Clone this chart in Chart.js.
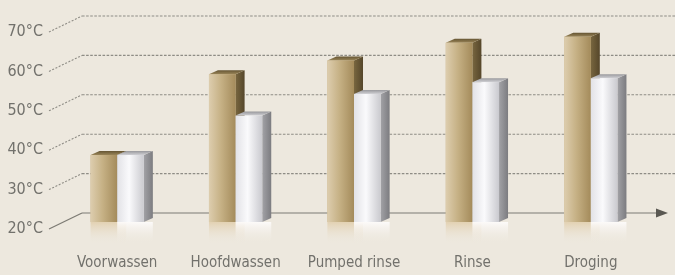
<!DOCTYPE html>
<html lang="nl">
<head>
<meta charset="UTF-8">
<title>Temperatuur per fase</title>
<script src="https://cdn.jsdelivr.net/npm/chart.js"></script>
<style>
  html, body { margin: 0; padding: 0; background: #ede8de; }
  canvas { display: block; }
</style>
</head>
<body>
<canvas id="chart" width="675" height="275"></canvas>
<script>
const phases = ['Voorwassen', 'Hoofdwassen', 'Pumped rinse', 'Rinse', 'Droging'];
const goldTemps = [37, 57.5, 61, 65.5, 67];
const whiteTemps = [37, 47, 52.5, 55.5, 56.5];
const tempTicks = [20, 30, 40, 50, 60, 70];

const BG = '#ede8de';
const FONT = '"Liberation Sans Narrow", "DejaVu Sans Condensed", "Liberation Sans", sans-serif';
const DX = 9, DY = -4;          // bar depth
const WALL_X = 82, WALL_Y = -9; // back wall offset
const LABEL_SHIFT = 7;

const palettes = [
  { front: ['#ddcdae', '#c6b185', '#a48b5b'], side: ['#78663f', '#55462a'],
    top: ['#655533', '#9a8558'], reflect: 'rgba(226,208,176,0.95)' },
  { front: ['#e2e2e6', '#fafafc', '#cacacf'], side: ['#a2a2a6', '#7c7c80'],
    top: ['#98989c', '#d0d0d4'], reflect: 'rgba(252,250,249,1)' }
];

function bar3d(ctx, bar, pal) {
  const left = bar.x - bar.width / 2, right = bar.x + bar.width / 2;
  const top = bar.y, base = bar.base;
  // fading part under the floor
  let g = ctx.createLinearGradient(0, base, 0, base + 22);
  g.addColorStop(0, pal.reflect);
  g.addColorStop(1, 'rgba(237,232,222,0)');
  ctx.fillStyle = g;
  ctx.fillRect(left, base, right - left + DX, 22);
  // side
  g = ctx.createLinearGradient(right, 0, right + DX, 0);
  g.addColorStop(0, pal.side[0]); g.addColorStop(1, pal.side[1]);
  ctx.fillStyle = g;
  ctx.beginPath();
  ctx.moveTo(right, top); ctx.lineTo(right + DX, top + DY);
  ctx.lineTo(right + DX, base + DY); ctx.lineTo(right, base);
  ctx.closePath(); ctx.fill();
  // top
  g = ctx.createLinearGradient(0, top + DY, 0, top);
  g.addColorStop(0, pal.top[0]); g.addColorStop(1, pal.top[1]);
  ctx.fillStyle = g;
  ctx.beginPath();
  ctx.moveTo(left, top); ctx.lineTo(left + DX, top + DY);
  ctx.lineTo(right + DX, top + DY); ctx.lineTo(right, top);
  ctx.closePath(); ctx.fill();
  // front
  g = ctx.createLinearGradient(left, 0, right, 0);
  g.addColorStop(0, pal.front[0]); g.addColorStop(0.45, pal.front[1]); g.addColorStop(1, pal.front[2]);
  ctx.fillStyle = g;
  ctx.fillRect(left, top, right - left, base - top);
}

const wallPlugin = {
  id: 'wall',
  beforeDraw(chart) {
    const ctx = chart.ctx;
    ctx.save();
    ctx.fillStyle = BG;
    ctx.fillRect(0, 0, chart.width, chart.height);
    ctx.restore();
  },
  beforeDatasetsDraw(chart) {
    const ctx = chart.ctx, y = chart.scales.y;
    ctx.save();
    tempTicks.forEach(v => {
      const p = y.getPixelForValue(v);
      const back = p + WALL_Y;
      const solid = v === tempTicks[0];
      ctx.strokeStyle = solid ? '#7d7b74' : '#8e8c85';
      ctx.lineWidth = solid ? 1.2 : 1.1;
      // connector from label to wall
      ctx.setLineDash(solid ? [] : [2, 1.6]);
      ctx.beginPath();
      ctx.moveTo(49, p + LABEL_SHIFT);
      ctx.lineTo(WALL_X, back);
      ctx.stroke();
      // line on the back wall
      ctx.setLineDash(solid ? [] : [2.6, 1.5]);
      ctx.beginPath();
      ctx.moveTo(WALL_X, back);
      ctx.lineTo(solid ? 657 : chart.width, back);
      ctx.stroke();
      if (solid) {
        ctx.setLineDash([]);
        ctx.fillStyle = '#5a5852';
        ctx.beginPath();
        ctx.moveTo(656, back - 4.5);
        ctx.lineTo(668, back);
        ctx.lineTo(656, back + 4.5);
        ctx.closePath();
        ctx.fill();
      }
    });
    ctx.restore();
  },
  afterDatasetsDraw(chart) {
    // repaint as 3D blocks: gold first, white on top of it
    const ctx = chart.ctx;
    ctx.save();
    [0, 1].forEach(i => {
      chart.getDatasetMeta(i).data.forEach(bar => bar3d(ctx, bar, palettes[i]));
    });
    ctx.restore();
  }
};

new Chart(document.getElementById('chart'), {
  type: 'bar',
  data: {
    labels: phases,
    datasets: [
      { label: 'goud', data: goldTemps, backgroundColor: '#c6b185', base: 20,
        categoryPercentage: 0.45, barPercentage: 1 },
      { label: 'wit', data: whiteTemps, backgroundColor: '#f2f2f4', base: 20,
        categoryPercentage: 0.45, barPercentage: 1 }
    ]
  },
  options: {
    responsive: false,
    animation: false,
    layout: { padding: { top: 25, right: 25, left: 0, bottom: 0 } },
    plugins: { legend: { display: false }, tooltip: { enabled: false } },
    scales: {
      x: {
        grid: { display: false },
        border: { display: false },
        ticks: { color: '#72716c', padding: 24, font: { family: FONT, size: 15 } },
        afterFit: s => { s.height = 53; }
      },
      y: {
        min: 20, max: 70,
        afterBuildTicks: s => { s.ticks = tempTicks.map(v => ({ value: v })); },
        grid: { display: false, drawTicks: false },
        border: { display: false },
        ticks: { color: '#72716c', padding: 15, labelOffset: LABEL_SHIFT,
                 font: { family: FONT, size: 16 }, callback: v => v + '°C' },
        afterFit: s => { s.width = 58; }
      }
    }
  },
  plugins: [wallPlugin]
});
</script>
</body>
</html>
